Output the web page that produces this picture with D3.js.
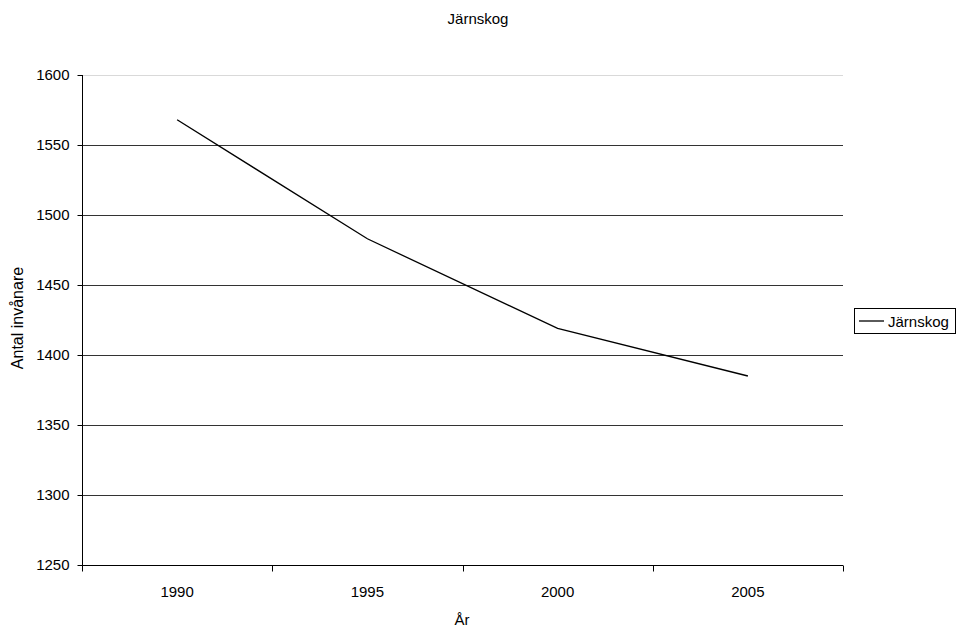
<!DOCTYPE html>
<html><head><meta charset="utf-8">
<script src="https://cdn.jsdelivr.net/npm/d3@7"></script>
<style>body{margin:0;background:#fff;}svg{display:block;font-family:"Liberation Sans",Arial,sans-serif;}</style>
</head><body><svg id="c" width="959" height="630"></svg>
<script>
const years = ["1990","1995","2000","2005"];
const values = [1568, 1483, 1419, 1385];
const yTicks = [1250,1300,1350,1400,1450,1500,1550,1600];
const title = "Järnskog";
const seriesName = "Järnskog";
const xTitle = "År";
const yTitle = "Antal invånare";

const FS = 15;
const svg = d3.select("#c");
const L=82, R=843, T=75, B=565;
const x = d3.scaleBand().domain(years).range([L,R]);
const y = d3.scaleLinear().domain([1250,1600]).range([B,T]);

// gridlines
svg.append("g").selectAll("line").data(yTicks.filter(d=>d>1250)).join("line")
  .attr("x1",L).attr("x2",R).attr("y1",d=>Math.round(y(d))+0.5).attr("y2",d=>Math.round(y(d))+0.5)
  .attr("stroke",d=>d===1600?"#d9d9d9":"#333").attr("stroke-width",1);

// y axis
const ya = svg.append("g").attr("transform",`translate(${L+0.5},0)`)
  .call(d3.axisLeft(y).tickValues(yTicks).tickSize(5).tickPadding(8).tickFormat(d3.format("d")));
ya.selectAll("text").attr("font-size",FS).attr("fill","#000").attr("font-family","Liberation Sans, Arial, sans-serif");
ya.selectAll("line,path").attr("stroke","#000");
ya.select(".domain").attr("d",`M0,${T}V${B}`);

// x axis
const xa = svg.append("g").attr("transform",`translate(0,${B+0.5})`)
  .call(d3.axisBottom(x).tickSize(0).tickPadding(21));
xa.selectAll("text").attr("font-size",FS).attr("fill","#000").attr("font-family","Liberation Sans, Arial, sans-serif");
xa.select(".domain").attr("stroke","#000").attr("d",`M${L},0H${R}`);
const bounds = years.map(d=>x(d)).concat([R]);
xa.selectAll(".bt").data(bounds).join("line").attr("class","bt")
  .attr("x1",d=>Math.round(d)+0.5).attr("x2",d=>Math.round(d)+0.5).attr("y1",0).attr("y2",6).attr("stroke","#000");

// line
const line = d3.line().x((d,i)=>x(years[i])+x.bandwidth()/2).y(d=>y(d));
svg.append("path").datum(values).attr("d",line).attr("fill","none").attr("stroke","#000").attr("stroke-width",1.3);

// titles
svg.append("text").attr("x",478).attr("y",24).attr("text-anchor","middle").attr("font-size",FS).text(title);
svg.append("text").attr("x",462).attr("y",625).attr("text-anchor","middle").attr("font-size",FS).text(xTitle);
svg.append("text").attr("transform","translate(23,318) rotate(-90)").attr("text-anchor","middle").attr("font-size",16).text(yTitle);

// legend
const lg = svg.append("g");
lg.append("rect").attr("x",854.5).attr("y",308.5).attr("width",101).attr("height",25).attr("fill","#fff").attr("stroke","#000");
lg.append("line").attr("x1",859).attr("x2",884).attr("y1",321).attr("y2",321).attr("stroke","#000").attr("stroke-width",1.3);
lg.append("text").attr("x",888).attr("y",326.5).attr("font-size",FS).text(seriesName);
</script></body></html>
